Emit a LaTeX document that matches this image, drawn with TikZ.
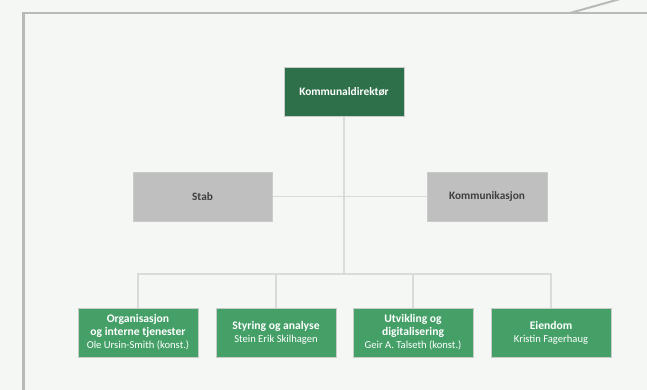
\documentclass[tikz,border=0pt]{standalone}
\usepackage{fontspec}
\usetikzlibrary{backgrounds}
\setmainfont{Carlito}
\definecolor{bg}{HTML}{F5F7F5}
\definecolor{frame}{HTML}{B8BAB8}
\definecolor{dgreen}{HTML}{2E7049}
\definecolor{lgreen}{HTML}{45A068}
\definecolor{gbox}{HTML}{BFBFBF}
\definecolor{gtext}{HTML}{3F3F3F}
\definecolor{conn}{HTML}{DADADA}
\definecolor{bord}{HTML}{C9CCC9}
\newcommand{\who}[1]{{\mdseries\fontsize{10.6}{12}\selectfont #1}}
\begin{document}
\begin{tikzpicture}[x=1pt,y=-1pt,
  box/.style={draw=bord,line width=0.8pt,minimum height=49pt,inner sep=0pt,align=center},
  topbox/.style={box,fill=dgreen,text=white,minimum width=120pt,font=\bfseries\fontsize{11.4}{13}\selectfont},
  staffbox/.style={box,fill=gbox,text=gtext,font=\bfseries\fontsize{11.3}{13}\selectfont},
  unitbox/.style={box,fill=lgreen,text=white,minimum width=120pt,font=\bfseries\fontsize{11.6}{13}\selectfont},
  link/.style={draw=conn,line width=1.3pt}]
\useasboundingbox (0,0) rectangle (647,390);
% nodes
\node[topbox] (kd) at (344,91.5) {Kommunaldirektør};
\node[staffbox,minimum width=139pt] (stab) at (202.5,196.5) {Stab};
\node[staffbox,minimum width=120pt] (komm) at (487,196.5) {Kommunikasjon};
\node[unitbox] (org) at (138,332.5) {Organisasjon\\og interne tjenester\\\who{Ole Ursin-Smith (konst.)}};
\node[unitbox] (sty) at (276,332.5) {Styring og analyse\\\who{Stein Erik Skilhagen}};
\node[unitbox] (utv) at (413,332.5) {Utvikling og\\digitalisering\\\who{Geir A. Talseth (konst.)}};
\node[unitbox] (eien) at (551,332.5) {Eiendom\\\who{Kristin Fagerhaug}};
\coordinate (bus) at (344,274);
\begin{scope}[on background layer]
% page and frame
\fill[bg] (0,0) rectangle (647,390);
\draw[frame,line width=2.5pt] (23.5,395) -- (23.5,13) -- (652,13);
\draw[frame,line width=2pt] (570,13) -- (620,-1);
% connectors
\draw[link] (kd.south) -- (bus);
\draw[link] (stab.east) -- (komm.west);
\draw[link] (org.north) |- (bus) -| (eien.north);
\draw[link] (sty.north) -- (sty.north |- bus);
\draw[link] (utv.north) -- (utv.north |- bus);
\end{scope}
\end{tikzpicture}
\end{document}
